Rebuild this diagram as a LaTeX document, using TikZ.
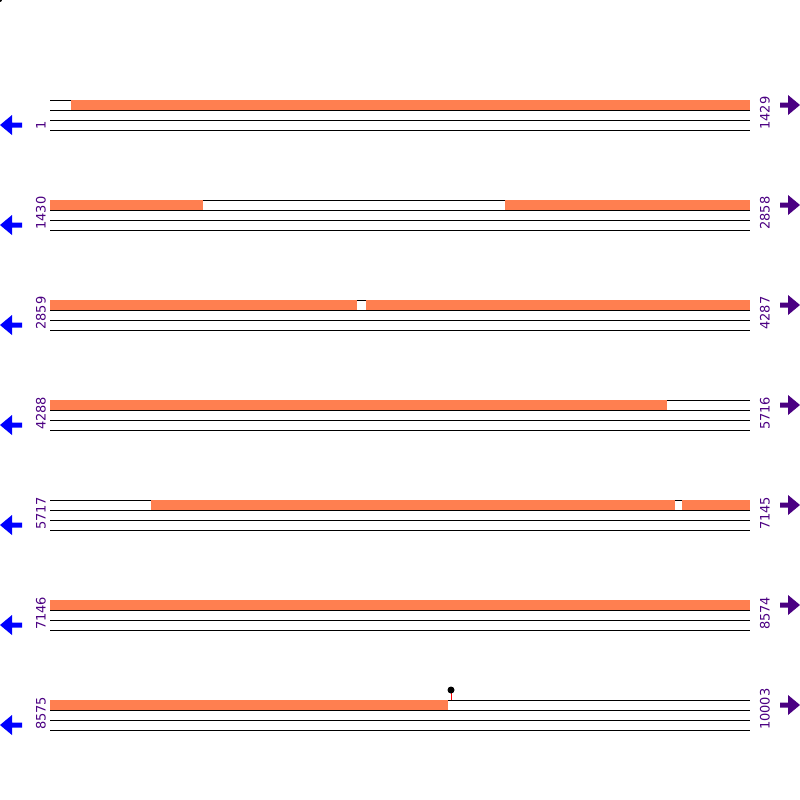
\documentclass[tikz,border=0pt]{standalone}
\usepackage{fontspec}
\setmainfont{DejaVu Sans}
\usetikzlibrary{positioning}

\definecolor{genecoral}{HTML}{FF7F50}
\definecolor{labelindigo}{HTML}{4B0082}

\tikzset{
  trackline/.style={black, line width=0.8pt},
  genebar/.style={fill=genecoral},
  poslabel/.style={rotate=90, anchor=west, inner sep=0pt, text=labelindigo, font=\fontsize{13}{13}\selectfont},
  revarrow/.style={fill=blue},
  fwdarrow/.style={fill=labelindigo}
}

\begin{document}
\begin{tikzpicture}[x=1pt, y=-1pt]
\useasboundingbox (0,0) rectangle (800,800);
% Corner dot
\fill (0,0) circle (2);
% Rows: tracks, labels and strand arrows
\foreach \r/\lft/\rgt in {0/1/1429, 1/1430/2858, 2/2859/4287, 3/4288/5716, 4/5717/7145, 5/7146/8574, 6/8575/10003} {
  \pgfmathsetmacro{\yy}{100*\r+100}
  \draw[trackline] (50,\yy) -- (750,\yy);
  \draw[trackline] (50,\yy+10) -- (750,\yy+10);
  \draw[trackline] (50,\yy+20) -- (750,\yy+20);
  \draw[trackline] (50,\yy+30) -- (750,\yy+30);
  \node[poslabel] (start\r) at (41,\yy+30) {\lft};
  \node[poslabel] (end\r) at (765,\yy+30) {\rgt};
  % Reverse strand arrow
  \fill[revarrow] (0,\yy+25) -- (12,\yy+15) -- (12,\yy+22.5) -- (22,\yy+22.5)
    -- (22,\yy+27.5) -- (12,\yy+27.5) -- (12,\yy+35) -- cycle;
  % Forward strand arrow
  \fill[fwdarrow] (800,\yy+5) -- (788,\yy-5) -- (788,\yy+2.5) -- (780,\yy+2.5)
    -- (780,\yy+7.5) -- (788,\yy+7.5) -- (788,\yy+15) -- cycle;
}
% Gene segments
\foreach \r/\a/\b in {0/71/750, 1/50/203, 1/505/750, 2/50/357, 2/366/750, 3/50/667,
  4/151/675, 4/682/750, 5/50/750, 6/50/448} {
  \fill[genebar] (\a,100*\r+100-0.4) rectangle (\b,100*\r+110.4);
}
% Marker
\draw[red, line width=0.8pt] (451,700) -- (451,691);
\fill (451,690) circle (3.5);
\end{tikzpicture}
\end{document}
